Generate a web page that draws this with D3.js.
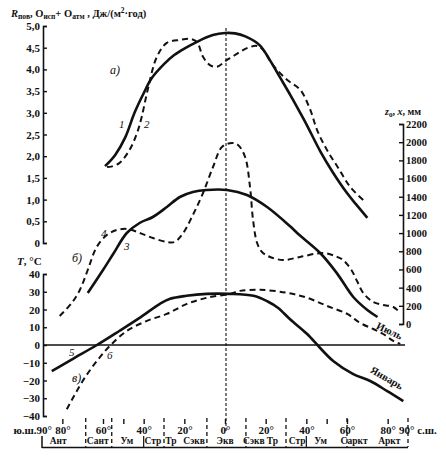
<!DOCTYPE html>
<html><head><meta charset="utf-8">
<script src="https://cdn.jsdelivr.net/npm/d3@7"></script>
<style>
body{margin:0;background:#fff}
text{font-family:"Liberation Serif","Times New Roman",serif;fill:#111}
</style>
</head><body>
<svg id="c" width="446" height="456"></svg>
<script>
// ---- data (latitude in degrees, south negative) ----
// panel a) left axis R
const lat1 = [-59,-54,-49,-44.5,-40,-36,-30,-25,-20,-14,-6,0,5,10,17,22,27,32,37,40,47,53,60,65,70];
const val1 = [1.77,2.03,2.44,3.0,3.45,3.80,4.12,4.33,4.48,4.63,4.79,4.84,4.83,4.76,4.56,4.22,3.82,3.42,3.0,2.74,2.10,1.63,1.15,0.86,0.58];
const lat2 = [-58,-56,-52,-47,-43.3,-41,-38,-33.5,-28.6,-22,-17,-13.8,-10.8,-7.4,-4,1,2.5,10.8,15.8,18.7,23.6,30.5,37,42,45.3,50.2,55.7,61.6,68];
const val2 = [1.75,1.76,1.84,2.14,2.53,2.90,3.53,4.29,4.61,4.68,4.70,4.63,4.29,4.10,4.06,4.22,4.26,4.49,4.54,4.45,4.10,3.76,3.53,3.06,2.60,2.14,1.73,1.29,0.99];
// panel б) right axis z0, x (мм)
const lat3 = [-67.5,-60,-55,-48.3,-42,-35.5,-28.6,-22.2,-15.8,-9,1,10.8,20.7,32,36,46.8,55,63.1,70,75];
const val3 = [341,594,770,1001,1111,1177,1287,1397,1452,1474,1474,1419,1287,1075,990,781,560,297,154,77];
const lat4 = [-81.3,-75.4,-71.4,-67.5,-63.1,-58.1,-53.2,-47.8,-41.9,-35.5,-28.6,-25,-21.2,-15.8,-10.8,-5.9,-1.5,3.4,6.4,9.9,12.3,13.8,15.8,18.2,22.2,28.6,36.9,48.3,55,58,62,65,68,72.9,77.8,82.8,86.2];
const val4 = [88,231,374,594,847,979,1034,1045,1001,946,902,900,979,1199,1441,1727,1947,1991,1969,1837,1507,1144,891,792,737,704,737,781,740,705,600,470,341,242,209,187,121];
// panel в) temperature, °C
const lat5 = [-85.2,-75,-63,-52,-42,-32,-27,-19,-9,2,14,21,26,32,40.4,46.8,53.2,63.1,71.4,79.8,87.7];
const val5 = [-14.7,-7.9,0,7.9,15.3,23.2,26,27.7,28.8,28.8,27.7,24.5,21,14.5,6.2,-1.7,-9,-16.4,-20.3,-26,-31.6];
const lat6 = [-77.8,-70,-63,-56.7,-48.3,-38.4,-28.6,-18.7,-8.9,2.5,7.4,17.2,30.5,40.4,50.2,60.1,66.5,72.9,77.8,82.8,86.2];
const val6 = [-36.2,-20.3,-9.0,-0.6,7.9,13.6,17.5,23.2,26.6,28.8,30.5,31.1,29.4,26.6,22,17.5,12.4,9.0,6.2,2.3,0.6];
// ticks
const rTicks = [0,0.5,1,1.5,2,2.5,3,3.5,4,4.5,5];
const tTicks = [-40,-30,-20,-10,0,10,20,30,40];
const zTicks = [0,200,400,600,800,1000,1200,1400,1600,1800,2000,2200];
const latTicks = [-80,-60,-50,-40,-20,0,20,40,50,60,80];
// climatic zones
const zoneBounds = [-68.5,-55.7,-30,-8.9,10.3,30,60,90];
const zoneMinor = [-40,40];
const zoneNames = ["Ант","Сант","Ум","Стр","Тр","Сэкв","Экв","Сэкв","Тр","Стр","Ум","Саркт","Аркт"];
const zoneLat  = [-82,-62.6,-48.3,-35.5,-26.6,-15.2,0,14.2,23.3,35.5,47,63.5,80.8];

const svg = d3.select("#c");
const x  = d3.scaleLinear().domain([-90,90]).range([42,408]);
const yR = d3.scaleLinear().domain([0,5]).range([243,26]);
const yZ = d3.scaleLinear().domain([0,2200]).range([324,124]);
const yT = d3.scaleLinear().domain([-40,40]).range([416,274]);

function styleAxis(g, fs){
  g.selectAll("path.domain").attr("stroke","#111").attr("stroke-width",1.6);
  g.selectAll(".tick line").attr("stroke","#111").attr("stroke-width",1.4);
  g.selectAll("text").attr("font-family","Liberation Serif, serif").attr("font-size",fs||11).attr("font-weight","bold").attr("fill","#111");
}
const comma = d => d===0 ? "0" : d.toFixed(1).replace(".",",");
const minus = d => d<0 ? "−"+Math.abs(d) : String(d);

svg.append("g").attr("transform","translate(43,0)")
  .call(d3.axisLeft(yR).tickValues(rTicks).tickSizeInner(-4).tickSizeOuter(-4).tickPadding(3).tickFormat(comma))
  .call(styleAxis);
svg.append("g").attr("transform","translate(43,0)")
  .call(d3.axisLeft(yT).tickValues(tTicks).tickSizeInner(-4).tickSizeOuter(-4).tickPadding(3).tickFormat(minus))
  .call(styleAxis);
svg.append("g").attr("transform","translate(403,0)")
  .call(d3.axisRight(yZ).tickValues(zTicks).tickSizeInner(-4).tickSizeOuter(-4).tickPadding(3).tickFormat(d3.format("d")))
  .call(g => styleAxis(g,10.5));

// latitude axis
const xa = svg.append("g").attr("transform","translate(0,419)")
  .call(d3.axisBottom(x).tickValues(latTicks).tickSize(5).tickPadding(2)
    .tickFormat(d => Math.abs(d)===50 ? "" : Math.abs(d)+"°"));
xa.select("path.domain").remove();
styleAxis(xa);
svg.append("text").attr("x",x(-90)+10).attr("y",434).attr("text-anchor","end")
  .attr("font-size",11).attr("font-weight","bold").text("ю.ш.90°");
svg.append("text").attr("x",x(90)-9).attr("y",434).attr("text-anchor","start")
  .attr("font-size",11).attr("font-weight","bold").text("90° с.ш.");

// zone separators
svg.selectAll("line.zb").data(zoneBounds).join("line").attr("class","zb")
  .attr("x1",d=>x(d)).attr("x2",d=>x(d)).attr("y1",418).attr("y2",447)
  .attr("stroke","#111").attr("stroke-width",1.3).attr("stroke-dasharray","4,3");
svg.selectAll("line.zm").data(zoneMinor).join("line").attr("class","zm")
  .attr("x1",d=>x(d)).attr("x2",d=>x(d)).attr("y1",436).attr("y2",447)
  .attr("stroke","#111").attr("stroke-width",1.2);
svg.append("line").attr("x1",x(-90)).attr("x2",x(-90)).attr("y1",436).attr("y2",448)
  .attr("stroke","#111").attr("stroke-width",1.5);
svg.append("line").attr("x1",x(-90)).attr("x2",x(90)).attr("y1",447.5).attr("y2",447.5)
  .attr("stroke","#111").attr("stroke-width",1.6);
svg.selectAll("text.zn").data(zoneNames).join("text").attr("class","zn")
  .attr("x",(d,i)=>x(zoneLat[i])).attr("y",444).attr("text-anchor","middle")
  .attr("font-size",9.5).attr("font-weight","bold").text(d=>d);

// equator line
svg.append("line").attr("x1",x(0)+1).attr("x2",x(0)+1).attr("y1",28).attr("y2",431)
  .attr("stroke","#111").attr("stroke-width",1.1).attr("stroke-dasharray","3,2");
// zero temperature line
svg.append("line").attr("x1",43).attr("x2",405).attr("y1",yT(0)).attr("y2",yT(0))
  .attr("stroke","#111").attr("stroke-width",1.3);

// curves
function curve(lats, vals, ys, dashed){
  const line = d3.line().x(d=>x(d[0])).y(d=>ys(d[1])).curve(d3.curveCatmullRom.alpha(0.5));
  svg.append("path").datum(d3.zip(lats, vals)).attr("d",line).attr("fill","none")
    .attr("stroke","#111").attr("stroke-width",dashed?2.0:2.6)
    .attr("stroke-dasharray",dashed?"6,4":null).attr("stroke-linecap","butt");
}
curve(lat1,val1,yR,false);
curve(lat2,val2,yR,true);
curve(lat3,val3,yZ,false);
curve(lat4,val4,yZ,true);
curve(lat5,val5,yT,false);
curve(lat6,val6,yT,true);

// labels
const T = (px,py,txt,opts={}) => {
  const t = svg.append("text").attr("x",px).attr("y",py).attr("font-size",opts.size||11)
    .attr("font-weight",opts.w||"bold").attr("font-style",opts.it?"italic":"normal").text(txt);
  if(opts.rot) t.attr("transform",`rotate(${opts.rot},${px},${py})`).attr("text-anchor","middle");
  return t;
};
// title
const tt = svg.append("text").attr("x",11).attr("y",17).attr("font-size",10.5).attr("font-weight","bold");
tt.append("tspan").attr("font-style","italic").text("R");
tt.append("tspan").attr("font-size",7.5).attr("dy",2).text("пов");
tt.append("tspan").attr("dy",-2).text(", O");
tt.append("tspan").attr("font-size",7.5).attr("dy",2).text("исп");
tt.append("tspan").attr("dy",-2).text("+ O");
tt.append("tspan").attr("font-size",7.5).attr("dy",2).text("атм");
tt.append("tspan").attr("dy",-2).text(" , Дж/(м");
tt.append("tspan").attr("font-size",7.5).attr("dy",-4).text("2");
tt.append("tspan").attr("dy",4).text("·год)");

const tz = svg.append("text").attr("x",385).attr("y",115).attr("font-size",10).attr("font-weight","bold");
tz.append("tspan").attr("font-style","italic").text("z");
tz.append("tspan").attr("font-size",7).attr("dy",2).text("0");
tz.append("tspan").attr("dy",-2).text(", ");
tz.append("tspan").attr("font-style","italic").text("x");
tz.append("tspan").text(",  мм");

const tT = svg.append("text").attr("x",17).attr("y",265).attr("font-size",11).attr("font-weight","bold");
tT.append("tspan").attr("font-style","italic").text("T");
tT.append("tspan").text(", °C");

T(110,74,"а)",{it:true,w:"normal",size:12});
T(72,262,"б)",{it:true,w:"normal",size:12});
T(72,382,"в)",{it:true,w:"normal",size:12});
T(119,128,"1",{it:true,w:"normal",size:11});
T(144,128,"2",{it:true,w:"normal",size:11});
T(124,250,"3",{it:true,w:"normal",size:11});
T(101,237,"4",{it:true,w:"normal",size:11});
T(69,356,"5",{it:true,w:"normal",size:11});
T(107,359,"6",{it:true,w:"normal",size:11});
T(388,334,"Июль",{rot:25,size:10.5});
T(385,381,"Январь",{rot:30,size:10.5});
</script>
</body></html>
